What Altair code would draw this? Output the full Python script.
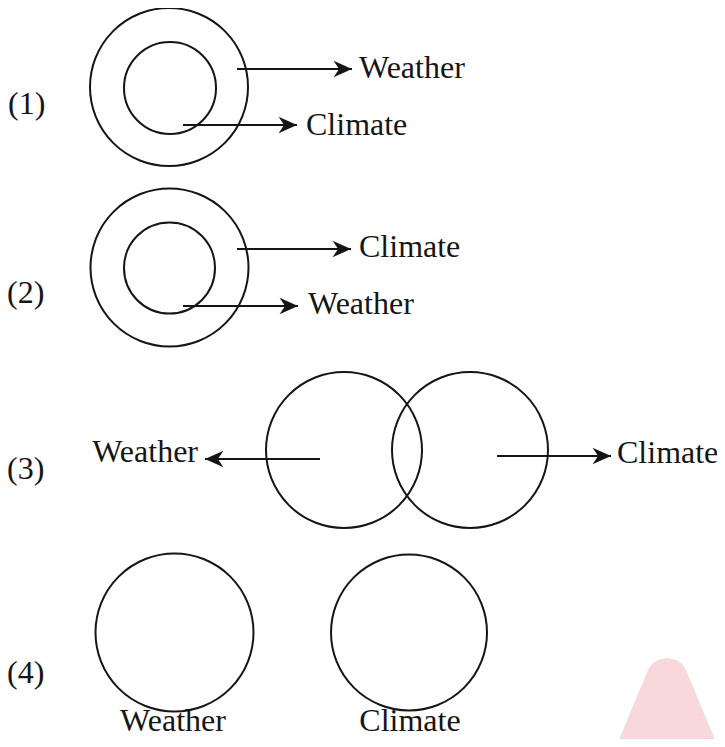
import altair as alt
import pandas as pd

# ---- data (in picture pixel units) ----
circle_cx = [169, 170, 169.5, 169.5, 344, 470, 174.5, 409]
circle_cy = [87, 88, 267.5, 268, 450, 450, 632.5, 632.5]
circle_r = [79, 46, 79, 45.5, 78, 78, 79, 78]

arrow_x1 = [237, 183, 237, 183, 320, 497]
arrow_x2 = [352, 297, 351, 298, 205, 611]
arrow_y = [69, 125, 249, 306, 459, 456]

label_text = ["Weather", "Climate", "Climate", "Weather", "Weather", "Climate",
              "Weather", "Climate", "(1)", "(2)", "(3)", "(4)"]
label_x = [359, 306, 359, 308, 198, 617, 173, 410, 8, 7, 7, 7]
label_y = [78, 135, 257, 314, 462, 463, 731, 731, 114, 303, 479, 683]
label_align = ["left", "left", "left", "left", "right", "left",
               "center", "center", "left", "left", "left", "left"]

blob_x = [616, 648, 652, 658, 667, 676, 682, 686, 718]
blob_y = [747, 670, 664, 660, 658, 660, 664, 670, 747]

# ---- tables ----
circles = pd.DataFrame({"cx": circle_cx, "cy": circle_cy, "r": circle_r})
arrows = pd.DataFrame({"x1": arrow_x1, "x2": arrow_x2, "y": arrow_y})
RIGHT = "M 0 0 L -2 -0.9 L -1.4 0 L -2 0.9 Z"
LEFT = "M 0 0 L 2 -0.9 L 1.4 0 L 2 0.9 Z"
arrows["head"] = [RIGHT if b > a else LEFT for a, b in zip(arrow_x1, arrow_x2)]
labels = pd.DataFrame({"t": label_text, "x": label_x, "y": label_y, "a": label_align})
blob = pd.DataFrame({"x": blob_x, "y": blob_y, "base": [747] * len(blob_x)})

# plot area sits at page offset 8px; map picture pixels 1:1
W, H = 709, 731
xs = alt.Scale(domain=[8, 8 + W], range=[0, W], nice=False, zero=False)
ys = alt.Scale(domain=[8, 8 + H], range=[0, H], nice=False, zero=False)

INK = "#151515"
FONT = "Liberation Serif"
FS = 32

blob_layer = alt.Chart(blob).mark_area(color="#f8d8db", interpolate="linear", clip=True).encode(
    x=alt.X("x:Q", scale=xs, axis=None),
    y=alt.Y("y:Q", scale=ys, axis=None),
    y2="base:Q",
)

circle_layer = alt.Chart(circles).transform_calculate(
    sz="pow(2*datum.r, 2)"
).mark_point(shape="circle", filled=False, stroke=INK, strokeWidth=2, opacity=1).encode(
    x=alt.X("cx:Q", scale=xs, axis=None),
    y=alt.Y("cy:Q", scale=ys, axis=None),
    size=alt.Size("sz:Q", scale=None),
)

shaft_layer = alt.Chart(arrows).mark_rule(color=INK, strokeWidth=2).encode(
    x=alt.X("x1:Q", scale=xs, axis=None),
    x2="x2:Q",
    y=alt.Y("y:Q", scale=ys, axis=None),
)

head_layer = alt.Chart(arrows).mark_point(filled=True, color=INK, opacity=1, size=340).encode(
    x=alt.X("x2:Q", scale=xs, axis=None),
    y=alt.Y("y:Q", scale=ys, axis=None),
    shape=alt.Shape("head:N", scale=None),
)

text_layers = []
for al in ["left", "right", "center"]:
    text_layers.append(
        alt.Chart(labels).transform_filter(alt.datum.a == al).mark_text(
            align=al, baseline="alphabetic", font=FONT, fontSize=FS, color=INK
        ).encode(
            x=alt.X("x:Q", scale=xs, axis=None),
            y=alt.Y("y:Q", scale=ys, axis=None),
            text="t:N",
        )
    )

chart = alt.layer(blob_layer, circle_layer, shaft_layer, head_layer, *text_layers).properties(
    width=W, height=H, padding=0, autosize=alt.AutoSizeParams(type="none"),
    background="white",
).configure_view(stroke=None)

chart.save("out.html", embed_options={"renderer": "svg", "actions": False})
